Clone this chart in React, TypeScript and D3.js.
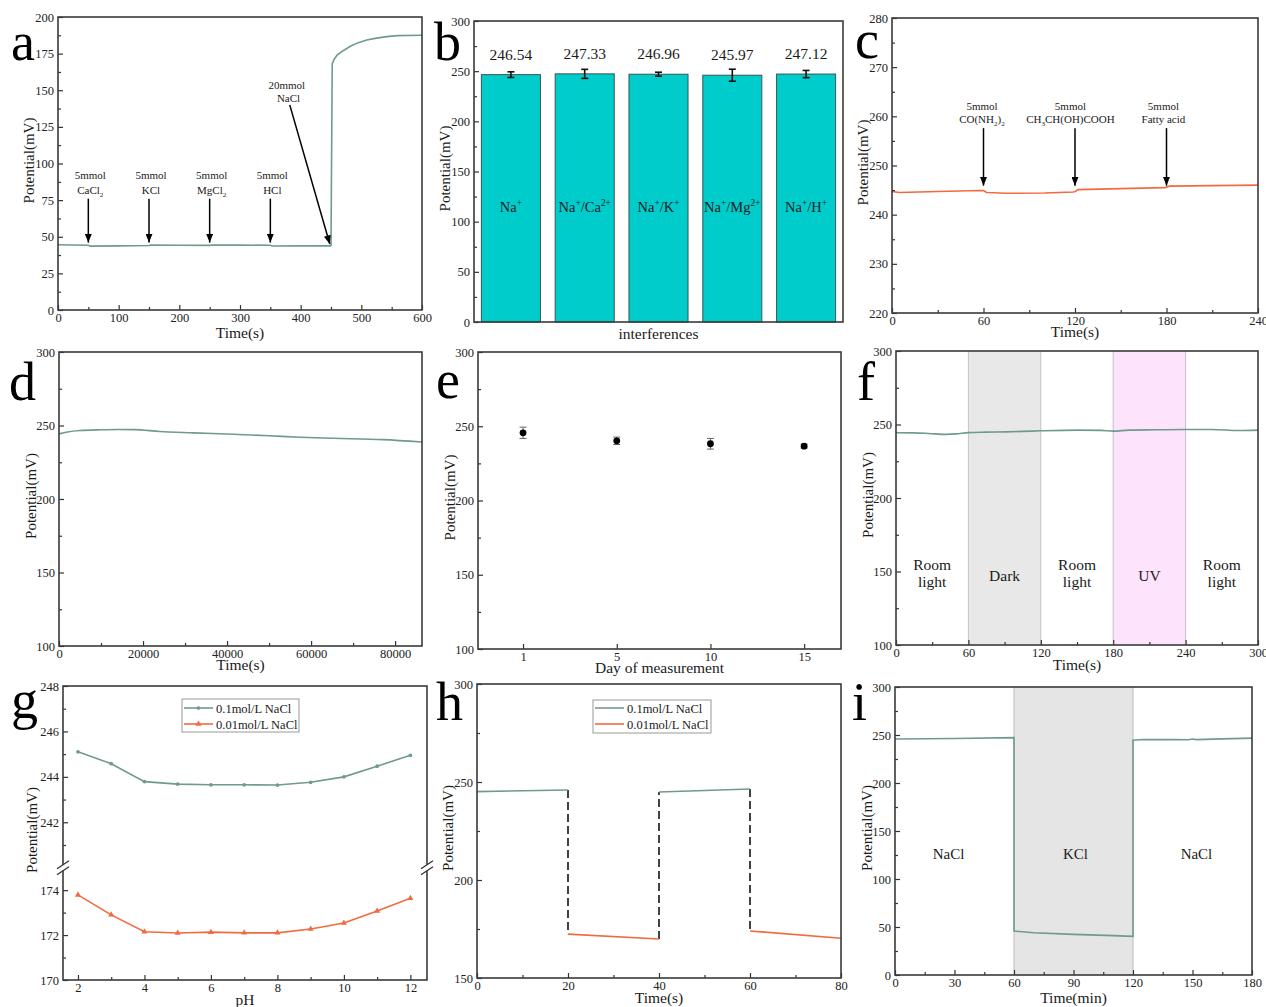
import React, { useEffect, useRef } from 'react';
import * as d3 from 'd3';

const FONT = '"Liberation Serif", "Times New Roman", Times, serif';
const GREEN = '#6f9a8c';
const ORANGE = '#f26a3f';
const CYAN = '#00cccc';

type Part = [string, 'n' | 'sup' | 'sub'];

// ---------- Panel a ----------
const aTime = [0, 50, 53, 100, 150, 153, 200, 250, 253, 300, 350, 353, 400, 449, 450, 452, 455, 460, 470, 482, 495, 509, 525, 542, 560, 600];
const aPot = [44.5, 44.2, 43.6, 43.8, 44.0, 44.3, 44.2, 44.1, 44.4, 44.3, 44.2, 43.7, 43.8, 43.8, 44.0, 168, 171, 174, 177, 180, 182.5, 184.3, 185.6, 186.6, 187.3, 187.5];
const aEvents = [50, 150, 250, 350];
const aAgents: Part[][] = [[['CaCl', 'n'], ['2', 'sub']], [['KCl', 'n']], [['MgCl', 'n'], ['2', 'sub']], [['HCl', 'n']]];

// ---------- Panel b ----------
const bCategories: Part[][] = [
  [['Na', 'n'], ['+', 'sup']],
  [['Na', 'n'], ['+', 'sup'], ['/Ca', 'n'], ['2+', 'sup']],
  [['Na', 'n'], ['+', 'sup'], ['/K', 'n'], ['+', 'sup']],
  [['Na', 'n'], ['+', 'sup'], ['/Mg', 'n'], ['2+', 'sup']],
  [['Na', 'n'], ['+', 'sup'], ['/H', 'n'], ['+', 'sup']],
];
const bValues = [246.54, 247.33, 246.96, 245.97, 247.12];
const bErrors = [2.8, 4.5, 2.0, 6.0, 3.6];

// ---------- Panel c ----------
const cTime = [0, 5, 30, 58, 60, 62, 75, 100, 119, 120, 122, 150, 179, 180, 182, 210, 240];
const cPot = [244.7, 244.5, 244.7, 244.9, 244.9, 244.5, 244.35, 244.4, 244.6, 244.7, 245.1, 245.3, 245.5, 245.6, 245.8, 245.9, 246.0];
const cEvents = [60, 120, 180];
const cAgents: Part[][] = [
  [['CO(NH', 'n'], ['2', 'sub'], [')', 'n'], ['2', 'sub']],
  [['CH', 'n'], ['3', 'sub'], ['CH(OH)COOH', 'n']],
  [['Fatty acid', 'n']],
];

// ---------- Panel d ----------
const dTime = [0, 2000, 5000, 10000, 14000, 18000, 24000, 32000, 41500, 50000, 57300, 65200, 77100, 86400];
const dPot = [244.3, 245.6, 246.6, 247.1, 247.3, 247.2, 245.9, 245.0, 244.0, 243.0, 242.0, 241.3, 240.4, 238.8];

// ---------- Panel e ----------
const eDays = ['1', '5', '10', '15'];
const eMeans = [245.6, 240.2, 238.2, 236.6];
const eErrors = [3.8, 2.5, 3.6, 1.3];

// ---------- Panel f ----------
const fTime = [0, 15, 27, 41, 50, 60, 75, 91, 105, 120, 151, 170, 180, 193, 215, 240, 262, 284, 300];
const fPot = [244.4, 244.3, 243.9, 243.3, 243.6, 244.5, 244.8, 245.0, 245.3, 245.7, 246.2, 246.0, 245.5, 246.2, 246.4, 246.6, 246.6, 245.9, 246.2];
const fZones = [[0, 60], [60, 120], [120, 180], [180, 240], [240, 300]];
const fZoneLabels = [['Room', 'light'], ['Dark'], ['Room', 'light'], ['UV'], ['Room', 'light']];

// ---------- Panel g ----------
const gPH = [2, 3, 4, 5, 6, 7, 8, 9, 10, 11, 12];
const gHigh = [245.1, 244.58, 243.79, 243.68, 243.65, 243.65, 243.64, 243.76, 244.0, 244.47, 244.95];
const gLow = [173.79, 172.9, 172.15, 172.09, 172.13, 172.1, 172.1, 172.27, 172.54, 173.07, 173.64];
const seriesNames = ['0.1mol/L NaCl', '0.01mol/L NaCl'];

// ---------- Panel h ----------
const hHighT = [[0, 20], [40, 60]];
const hHighV = [[245.1, 245.9], [244.9, 246.4]];
const hLowT = [[20, 40], [60, 80]];
const hLowV = [[172.4, 169.9], [174.0, 170.3]];

// ---------- Panel i ----------
const iTime = [0, 30, 60, 60, 70, 90, 110, 120, 120, 125, 140, 148, 150, 152, 165, 180];
const iPot = [245.8, 246.4, 247.3, 45.8, 44.0, 42.3, 41.0, 40.2, 244.5, 245.3, 245.2, 245.0, 245.8, 245.2, 246.0, 246.7];
const iZoneLabels = ['NaCl', 'KCl', 'NaCl'];
const iZoneCenters = [27, 91, 152];

function rich(sel: any, x: number, y: number, parts: Part[], size: number, anchor = 'middle', fill = '#1a1a1a') {
  const t = sel.append('text').attr('x', x).attr('y', y).attr('font-family', FONT)
    .attr('font-size', size).attr('text-anchor', anchor).attr('fill', fill);
  let cur = 0;
  parts.forEach(([s, k]) => {
    const target = k === 'sup' ? -size * 0.38 : k === 'sub' ? size * 0.25 : 0;
    t.append('tspan').attr('dy', target - cur).attr('font-size', k === 'n' ? size : size * 0.65).text(s);
    cur = target;
  });
  return t;
}

function text(sel: any, x: number, y: number, s: string, size: number, anchor = 'middle', fill = '#1a1a1a') {
  return sel.append('text').attr('x', x).attr('y', y).attr('font-family', FONT)
    .attr('font-size', size).attr('text-anchor', anchor).attr('fill', fill).text(s);
}

interface YAx { scale: any; major: number[]; minor: number[] }
interface Cfg {
  box: [number, number, number, number];
  x: any;
  xMajor?: any[];
  xMinor?: number[];
  xFmt?: (d: any) => string;
  ys: YAx[];
  xTitle: string;
  yTitle: string;
  xTitleDy: number;
  yTitleDx: number;
  letter: string;
  letterPos: [number, number];
}

function styleAxis(sel: any) {
  sel.select('.domain').remove();
  sel.selectAll('line').attr('stroke', '#333').attr('stroke-width', 1.2);
  sel.selectAll('text').attr('font-family', FONT).attr('font-size', 12.5).attr('fill', '#222');
}

function axes(svg: any, c: Cfg) {
  const [L, T, R, B] = c.box;
  const g = svg.append('g');
  if (c.xMajor) {
    g.append('g').attr('transform', `translate(0,${B})`)
      .call(d3.axisBottom(c.x).tickValues(c.xMajor).tickSize(-5).tickPadding(3)
        .tickFormat((c.xFmt ?? d3.format('d')) as any))
      .call(styleAxis);
  }
  if (c.xMinor) {
    g.append('g').attr('transform', `translate(0,${B})`)
      .call(d3.axisBottom(c.x).tickValues(c.xMinor).tickSize(-3).tickFormat(() => ''))
      .call(styleAxis);
  }
  c.ys.forEach((ya) => {
    g.append('g').attr('transform', `translate(${L},0)`)
      .call(d3.axisLeft(ya.scale).tickValues(ya.major).tickSize(-5).tickPadding(4).tickFormat(d3.format('d') as any))
      .call(styleAxis);
    g.append('g').attr('transform', `translate(${L},0)`)
      .call(d3.axisLeft(ya.scale).tickValues(ya.minor).tickSize(-3).tickFormat(() => ''))
      .call(styleAxis);
  });
  g.append('rect').attr('x', L).attr('y', T).attr('width', R - L).attr('height', B - T)
    .attr('fill', 'none').attr('stroke', '#3a3a3a').attr('stroke-width', 1.6);
  text(g, (L + R) / 2, B + c.xTitleDy, c.xTitle, 15.5);
  g.append('text').attr('transform', `translate(${L - c.yTitleDx},${(T + B) / 2 - 3}) rotate(-90)`)
    .attr('font-family', FONT).attr('font-size', 15).attr('text-anchor', 'middle').attr('fill', '#1a1a1a')
    .text(c.yTitle);
  text(g, c.letterPos[0], c.letterPos[1], c.letter, 54, 'start', '#000');
  return g;
}

function range(a: number, b: number, s: number) {
  return d3.range(a, b + s / 2, s);
}

function draw(svg: any) {
  svg.append('rect').attr('width', 1266).attr('height', 1007).attr('fill', '#fff');
  const defs = svg.append('defs');
  defs.append('marker').attr('id', 'arrowhead').attr('viewBox', '0 0 10 8').attr('refX', 10).attr('refY', 4)
    .attr('markerWidth', 9).attr('markerHeight', 7).attr('markerUnits', 'userSpaceOnUse').attr('orient', 'auto')
    .append('path').attr('d', 'M0,0 L10,4 L0,8 Z').attr('fill', '#000');

  const lineStyle = (p: any, color: string) => p.attr('fill', 'none').attr('stroke', color).attr('stroke-width', 1.6);

  // ===== a =====
  {
    const x = d3.scaleLinear().domain([0, 600]).range([58, 422]);
    const y = d3.scaleLinear().domain([0, 200]).range([310, 17]);
    const ln = d3.line<number>().x((_, i) => x(aTime[i])).y((d) => y(d));
    lineStyle(svg.append('path').attr('d', ln(aPot)), GREEN);
    aEvents.forEach((e, i) => {
      svg.append('line').attr('x1', x(e)).attr('x2', x(e)).attr('y1', y(76)).attr('y2', y(46))
        .attr('stroke', '#000').attr('stroke-width', 1.5).attr('marker-end', 'url(#arrowhead)');
      text(svg, x(e) + 2, y(89.5), '5mmol', 11);
      rich(svg, x(e) + 2, y(79), aAgents[i], 11);
    });
    svg.append('line').attr('x1', x(382)).attr('y1', y(140)).attr('x2', x(448)).attr('y2', y(45))
      .attr('stroke', '#000').attr('stroke-width', 1.5).attr('marker-end', 'url(#arrowhead)');
    text(svg, x(377), y(151), '20mmol', 11);
    text(svg, x(380), y(142), 'NaCl', 11);
    axes(svg, {
      box: [58, 17, 422, 310], x, xMajor: range(0, 600, 100), xMinor: range(50, 550, 100),
      ys: [{ scale: y, major: range(0, 200, 25), minor: range(12.5, 187.5, 25) }],
      xTitle: 'Time(s)', yTitle: 'Potential(mV)', xTitleDy: 28, yTitleDx: 24, letter: 'a', letterPos: [11, 60],
    });
  }

  // ===== b =====
  {
    const x = d3.scaleBand<number>().domain(d3.range(bValues.length)).range([474, 843]).paddingInner(0.2).paddingOuter(0.1);
    const y = d3.scaleLinear().domain([0, 300]).range([322, 21]);
    bValues.forEach((v, i) => {
      svg.append('rect').attr('x', x(i)).attr('y', y(v)).attr('width', x.bandwidth()).attr('height', y(0) - y(v))
        .attr('fill', CYAN).attr('stroke', '#3a5555').attr('stroke-width', 1);
      const cx = (x(i) as number) + x.bandwidth() / 2;
      const e = bErrors[i];
      svg.append('line').attr('x1', cx).attr('x2', cx).attr('y1', y(v - e)).attr('y2', y(v + e)).attr('stroke', '#111').attr('stroke-width', 1.6);
      [v - e, v + e].forEach((w) => svg.append('line').attr('x1', cx - 3.5).attr('x2', cx + 3.5).attr('y1', y(w)).attr('y2', y(w)).attr('stroke', '#111').attr('stroke-width', 1.6));
      text(svg, cx, y(v) - 15, v.toFixed(2), 15.5);
      rich(svg, cx, y(110), bCategories[i], 14.5);
    });
    axes(svg, {
      box: [474, 21, 843, 322], x,
      ys: [{ scale: y, major: range(0, 300, 50), minor: range(25, 275, 50) }],
      xTitle: 'interferences', yTitle: 'Potential(mV)', xTitleDy: 17, yTitleDx: 24, letter: 'b', letterPos: [434, 60],
    });
  }

  // ===== c =====
  {
    const x = d3.scaleLinear().domain([0, 240]).range([892, 1258]);
    const y = d3.scaleLinear().domain([220, 280]).range([313, 18]);
    const ln = d3.line<number>().x((_, i) => x(cTime[i])).y((d) => y(d));
    lineStyle(svg.append('path').attr('d', ln(cPot)), ORANGE);
    cEvents.forEach((e, i) => {
      svg.append('line').attr('x1', x(e)).attr('x2', x(e)).attr('y1', y(257.6)).attr('y2', y(245.9))
        .attr('stroke', '#000').attr('stroke-width', 1.5).attr('marker-end', 'url(#arrowhead)');
      const lx = i === 0 ? e - 1 : i === 1 ? e - 3 : e - 2;
      text(svg, x(lx), y(261.3), '5mmol', 11);
      rich(svg, x(lx), y(258.6), cAgents[i], 11);
    });
    axes(svg, {
      box: [892, 18, 1258, 313], x, xMajor: range(0, 240, 60), xMinor: range(30, 210, 60),
      ys: [{ scale: y, major: range(220, 280, 10), minor: range(225, 275, 10) }],
      xTitle: 'Time(s)', yTitle: 'Potential(mV)', xTitleDy: 24, yTitleDx: 24, letter: 'c', letterPos: [855, 58],
    });
  }

  // ===== d =====
  {
    const x = d3.scaleLinear().domain([0, 86400]).range([59, 422]);
    const y = d3.scaleLinear().domain([100, 300]).range([646, 352]);
    const ln = d3.line<number>().x((_, i) => x(dTime[i])).y((d) => y(d)).curve(d3.curveMonotoneX);
    lineStyle(svg.append('path').attr('d', ln(dPot)), GREEN);
    axes(svg, {
      box: [59, 352, 422, 646], x, xMajor: range(0, 80000, 20000), xMinor: range(10000, 80000, 20000),
      ys: [{ scale: y, major: range(100, 300, 50), minor: range(125, 275, 50) }],
      xTitle: 'Time(s)', yTitle: 'Potential(mV)', xTitleDy: 24, yTitleDx: 23, letter: 'd', letterPos: [9, 400],
    });
  }

  // ===== e =====
  {
    const x = d3.scalePoint<string>().domain(eDays).range([478, 841]).padding(0.437).align(0.55);
    const y = d3.scaleLinear().domain([100, 300]).range([649, 352]);
    eMeans.forEach((v, i) => {
      const cx = x(eDays[i]) as number;
      const e = eErrors[i];
      svg.append('line').attr('x1', cx).attr('x2', cx).attr('y1', y(v - e)).attr('y2', y(v + e)).attr('stroke', '#666').attr('stroke-width', 1);
      [v - e, v + e].forEach((w) => svg.append('line').attr('x1', cx - 3.5).attr('x2', cx + 3.5).attr('y1', y(w)).attr('y2', y(w)).attr('stroke', '#666').attr('stroke-width', 1));
      svg.append('circle').attr('cx', cx).attr('cy', y(v)).attr('r', 3.4).attr('fill', '#000');
    });
    axes(svg, {
      box: [478, 352, 841, 649], x, xMajor: eDays, xFmt: (d: any) => d,
      ys: [{ scale: y, major: range(100, 300, 50), minor: range(125, 275, 50) }],
      xTitle: 'Day of measurement', yTitle: 'Potential(mV)', xTitleDy: 24, yTitleDx: 23, letter: 'e', letterPos: [436, 398],
    });
  }

  // ===== f =====
  {
    const x = d3.scaleLinear().domain([0, 300]).range([896, 1258]);
    const y = d3.scaleLinear().domain([100, 300]).range([645, 351]);
    [[1, '#e8e8e8', '#c4c4c4'], [3, '#fde3fb', '#cdb9cc']].forEach(([zi, fill, edge]: any) => {
      const [a, b] = fZones[zi];
      svg.append('rect').attr('x', x(a)).attr('y', y(300)).attr('width', x(b) - x(a)).attr('height', y(100) - y(300)).attr('fill', fill);
      [a, b].forEach((t) => svg.append('line').attr('x1', x(t)).attr('x2', x(t)).attr('y1', y(300)).attr('y2', y(100)).attr('stroke', edge).attr('stroke-width', 1));
    });
    const ln = d3.line<number>().x((_, i) => x(fTime[i])).y((d) => y(d)).curve(d3.curveMonotoneX);
    lineStyle(svg.append('path').attr('d', ln(fPot)), GREEN);
    fZones.forEach(([a, b], i) => {
      const cx = x((a + b) / 2);
      const lbl = fZoneLabels[i];
      if (lbl.length === 2) {
        text(svg, cx, y(151), lbl[0], 15.5);
        text(svg, cx, y(139.7), lbl[1], 15.5);
      } else {
        text(svg, cx, y(143.7), lbl[0], 15.5);
      }
    });
    axes(svg, {
      box: [896, 351, 1258, 645], x, xMajor: range(0, 300, 60), xMinor: range(30, 270, 60),
      ys: [{ scale: y, major: range(100, 300, 50), minor: range(125, 275, 50) }],
      xTitle: 'Time(s)', yTitle: 'Potential(mV)', xTitleDy: 25, yTitleDx: 23, letter: 'f', letterPos: [857, 400],
    });
  }

  // ===== g =====
  {
    const x = d3.scaleLinear().domain([1.55, 12.5]).range([63, 427]);
    const brk = 867.7;
    const yTop = d3.scaleLinear().domain([240, 248]).range([brk, 686]);
    const yBot = d3.scaleLinear().domain([170, 175]).range([980, brk]);
    const lnTop = d3.line<number>().x((_, i) => x(gPH[i])).y((d) => yTop(d));
    const lnBot = d3.line<number>().x((_, i) => x(gPH[i])).y((d) => yBot(d));
    lineStyle(svg.append('path').attr('d', lnTop(gHigh)), GREEN);
    lineStyle(svg.append('path').attr('d', lnBot(gLow)), ORANGE);
    const circ = d3.symbol(d3.symbolCircle, 11);
    const tri = d3.symbol(d3.symbolTriangle, 16);
    gHigh.forEach((v, i) => svg.append('path').attr('d', circ()).attr('transform', `translate(${x(gPH[i])},${yTop(v)})`).attr('fill', GREEN));
    gLow.forEach((v, i) => svg.append('path').attr('d', tri()).attr('transform', `translate(${x(gPH[i])},${yBot(v)})`).attr('fill', ORANGE));
    const ag = axes(svg, {
      box: [63, 686, 427, 980], x, xMajor: range(2, 12, 2), xMinor: range(3, 11, 2),
      ys: [
        { scale: yTop, major: [242, 244, 246, 248], minor: [241, 243, 245, 247] },
        { scale: yBot, major: [170, 172, 174], minor: [171, 173] },
      ],
      xTitle: 'pH', yTitle: 'Potential(mV)', xTitleDy: 25, yTitleDx: 26, letter: 'g', letterPos: [11, 718],
    });
    [63, 427].forEach((bx) => {
      ag.append('rect').attr('x', bx - 2).attr('y', brk - 3).attr('width', 4).attr('height', 6).attr('fill', '#fff');
      [-3, 3].forEach((o) => ag.append('line').attr('x1', bx - 6).attr('y1', brk + o + 4).attr('x2', bx + 6).attr('y2', brk + o - 4)
        .attr('stroke', '#333').attr('stroke-width', 1.3));
    });
    // legend
    const lg = svg.append('g');
    lg.append('rect').attr('x', 182).attr('y', 699).attr('width', 117).attr('height', 33).attr('fill', '#fff').attr('stroke', '#999').attr('stroke-width', 1);
    [[GREEN, circ], [ORANGE, tri]].forEach(([col, sym]: any, i) => {
      const ly = 708 + i * 16;
      lg.append('line').attr('x1', 184).attr('x2', 213).attr('y1', ly).attr('y2', ly).attr('stroke', col).attr('stroke-width', 1.6);
      lg.append('path').attr('d', sym()).attr('transform', `translate(198.5,${ly})`).attr('fill', col);
      text(lg, 216, ly + 4.5, seriesNames[i], 12.5, 'start');
    });
  }

  // ===== h =====
  {
    const x = d3.scaleLinear().domain([0, 80]).range([477, 841]);
    const y = d3.scaleLinear().domain([150, 300]).range([978, 684]);
    const ln = d3.line<number>();
    const dashed = (t: number, v1: number, v2: number) => svg.append('line').attr('x1', x(t)).attr('x2', x(t)).attr('y1', y(v1)).attr('y2', y(v2))
      .attr('stroke', '#222').attr('stroke-width', 1.7).attr('stroke-dasharray', '8,4');
    dashed(hHighT[0][1], hHighV[0][1], hLowV[0][0]);
    dashed(hLowT[0][1], hLowV[0][1], hHighV[1][0]);
    dashed(hHighT[1][1], hHighV[1][1], hLowV[1][0]);
    hHighT.forEach((ts, k) => lineStyle(svg.append('path').attr('d', ln(ts.map((t, j) => [x(t), y(hHighV[k][j])] as [number, number]))), GREEN));
    hLowT.forEach((ts, k) => lineStyle(svg.append('path').attr('d', ln(ts.map((t, j) => [x(t), y(hLowV[k][j])] as [number, number]))), ORANGE));
    axes(svg, {
      box: [477, 684, 841, 978], x, xMajor: range(0, 80, 20), xMinor: range(10, 70, 20),
      ys: [{ scale: y, major: range(150, 300, 50), minor: range(175, 275, 50) }],
      xTitle: 'Time(s)', yTitle: 'Potential(mV)', xTitleDy: 25, yTitleDx: 24, letter: 'h', letterPos: [436, 720],
    });
    const lg = svg.append('g');
    lg.append('rect').attr('x', 593).attr('y', 700).attr('width', 118).attr('height', 33).attr('fill', '#fff').attr('stroke', '#999').attr('stroke-width', 1);
    [GREEN, ORANGE].forEach((col, i) => {
      const ly = 708 + i * 16;
      lg.append('line').attr('x1', 595).attr('x2', 624).attr('y1', ly).attr('y2', ly).attr('stroke', col).attr('stroke-width', 1.6);
      text(lg, 627, ly + 4.5, seriesNames[i], 12.5, 'start');
    });
  }

  // ===== i =====
  {
    const x = d3.scaleLinear().domain([0, 180]).range([895, 1252]);
    const y = d3.scaleLinear().domain([0, 300]).range([975, 687]);
    svg.append('rect').attr('x', x(60)).attr('y', y(300)).attr('width', x(120) - x(60)).attr('height', y(0) - y(300)).attr('fill', '#e5e5e5');
    [60, 120].forEach((t) => svg.append('line').attr('x1', x(t)).attr('x2', x(t)).attr('y1', y(300)).attr('y2', y(0)).attr('stroke', '#bdbdbd').attr('stroke-width', 1));
    const ln = d3.line<number>().x((_, i) => x(iTime[i])).y((d) => y(d));
    lineStyle(svg.append('path').attr('d', ln(iPot)), GREEN);
    iZoneLabels.forEach((s, i) => text(svg, x(iZoneCenters[i]), y(120.8), s, 15));
    axes(svg, {
      box: [895, 687, 1252, 975], x, xMajor: range(0, 180, 30), xMinor: range(15, 165, 30),
      ys: [{ scale: y, major: range(0, 300, 50), minor: range(25, 275, 50) }],
      xTitle: 'Time(min)', yTitle: 'Potential(mV)', xTitleDy: 28, yTitleDx: 23, letter: 'i', letterPos: [852, 720],
    });
  }
}

export default function App() {
  const ref = useRef<SVGSVGElement>(null);
  useEffect(() => {
    const svg = d3.select(ref.current);
    svg.selectAll('*').remove();
    draw(svg);
  }, []);
  return (
    <svg ref={ref} width={1266} height={1007}
      style={{ position: 'absolute', left: 0, top: 0, display: 'block', background: '#fff' }} />
  );
}
